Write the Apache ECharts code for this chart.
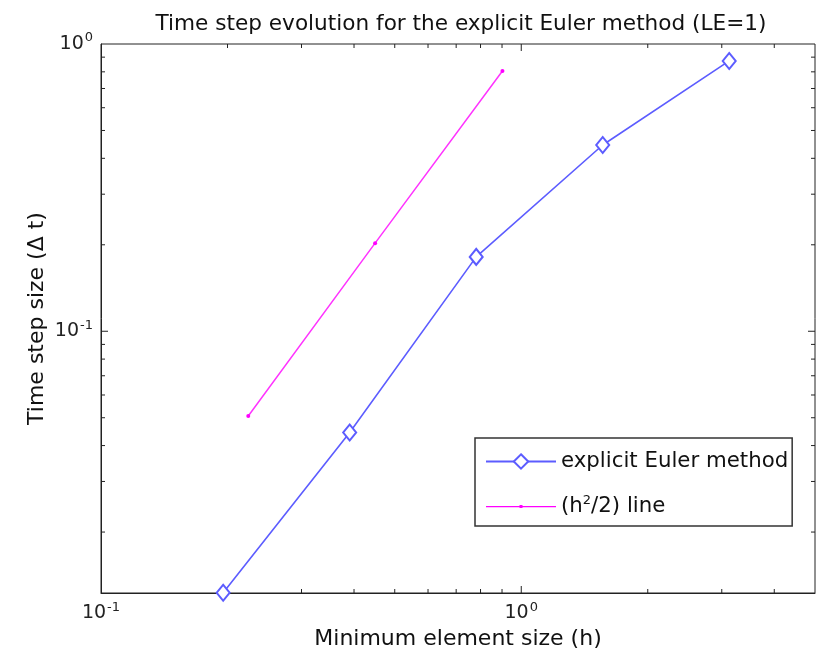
<!DOCTYPE html>
<html>
<head>
<meta charset="utf-8">
<script src="https://cdn.jsdelivr.net/npm/echarts@6/dist/echarts.min.js"></script>
<style>
  html, body { margin: 0; padding: 0; background: #fff; }
  #main { width: 818px; height: 655px; }
</style>
</head>
<body>
<div id="main"></div>
<script>
// minimum element size h and the time step found for each
var hVals = [0.1953, 0.3906, 0.7813, 1.5625, 3.125];
var dtVals = [0.0123, 0.0444, 0.1815, 0.445, 0.873];
// reference h^2 line
var hRef = [0.2241, 0.449, 0.902];
var refVals = [0.0507, 0.2026, 0.805];

// axis limits and tick values
var xMin = 0.1, xMax = 5;
var yMin = 0.01227, yMax = 1;
var xMajorTicks = [1];
var xMinorTicks = [0.2, 0.3, 0.4, 0.5, 0.6, 0.7, 0.8, 0.9, 2, 3, 4];
var yMajorTicks = [0.1];
var yMinorTicks = [0.02, 0.03, 0.04, 0.05, 0.06, 0.07, 0.08, 0.09, 0.2, 0.3, 0.4, 0.5, 0.6, 0.7, 0.8, 0.9];

var FONT = 'DejaVu Sans';
var AXIS_COLOR = '#222';
var EULER = 'explicit Euler method';
var REF = '(h^2/2) line';

var chart = echarts.init(document.getElementById('main'), null, {renderer: 'canvas'});

// 10^n labels with superscript
function powLabel(v) {
  var e = Math.log10(v);
  if (Math.abs(e - Math.round(e)) > 1e-6) return '';
  return '{b|10}{sup|' + Math.round(e) + '}';
}

var labelRich = {
  b: {fontSize: 19, fontFamily: FONT, color: '#222'},
  sup: {fontSize: 13, fontFamily: FONT, color: '#222', verticalAlign: 'top', padding: [0, 0, 12, 1]}
};

// ticks drawn inward on both sides of the box, like matlab
function xTickItem(len) {
  return function (params, api) {
    var p = api.coord([api.value(0), yMin]);
    var cs = params.coordSys;
    var st = {stroke: AXIS_COLOR, lineWidth: 1};
    return {
      type: 'group',
      children: [
        {type: 'line', shape: {x1: p[0], y1: cs.y + cs.height, x2: p[0], y2: cs.y + cs.height - len}, style: st},
        {type: 'line', shape: {x1: p[0], y1: cs.y, x2: p[0], y2: cs.y + len}, style: st}
      ]
    };
  };
}
function yTickItem(len) {
  return function (params, api) {
    var p = api.coord([xMin, api.value(1)]);
    var cs = params.coordSys;
    var st = {stroke: AXIS_COLOR, lineWidth: 1};
    return {
      type: 'group',
      children: [
        {type: 'line', shape: {x1: cs.x, y1: p[1], x2: cs.x + len, y2: p[1]}, style: st},
        {type: 'line', shape: {x1: cs.x + cs.width, y1: p[1], x2: cs.x + cs.width - len, y2: p[1]}, style: st}
      ]
    };
  };
}

var option = {
  animation: false,
  backgroundColor: '#fff',
  title: {
    text: 'Time step evolution for the explicit Euler method (LE=1)',
    left: 456,
    textAlign: 'center',
    top: 8,
    textStyle: {fontFamily: FONT, fontSize: 21.6, fontWeight: 'normal', color: '#111'}
  },
  grid: {
    left: 101, right: 2, top: 44, bottom: 62,
    show: true, borderColor: AXIS_COLOR, borderWidth: 1, backgroundColor: '#fff'
  },
  legend: {
    data: [
      {name: EULER},
      // small dot on the line, as in the plot
      {name: REF, icon: 'path://M0,0h0.05v0.05h-0.05zM69.95,17.95h0.05v0.05h-0.05zM0,8.4h70v1.3h-70zM33.5,7.5h3v3h-3z'}
    ],
    orient: 'vertical',
    left: 475,
    top: 438,
    padding: [13, 4, 9, 10],
    itemGap: 22,
    itemWidth: 70,
    itemHeight: 18,
    backgroundColor: '#fff',
    borderColor: '#333',
    borderWidth: 1.5,
    formatter: function (name) {
      return name === REF ? '(h{sup|2}/2) line' : name;
    },
    textStyle: {
      fontFamily: FONT, fontSize: 21.3, color: '#111',
      rich: {sup: {fontSize: 13, fontFamily: FONT, color: '#111', verticalAlign: 'top', padding: [0, 0, 12, 0]}}
    }
  },
  xAxis: {
    type: 'log',
    logBase: 10,
    min: xMin,
    max: xMax,
    name: 'Minimum element size (h)',
    nameLocation: 'middle',
    nameGap: 33,
    nameTextStyle: {fontFamily: FONT, fontSize: 22, color: '#111'},
    axisLine: {show: true, lineStyle: {color: AXIS_COLOR, width: 1}},
    axisTick: {show: false},
    splitLine: {show: false},
    axisLabel: {
      color: '#222', margin: 8,
      formatter: powLabel, rich: labelRich
    }
  },
  yAxis: {
    type: 'log',
    logBase: 10,
    min: yMin,
    max: yMax,
    name: 'Time step size (\u0394 t)',
    nameLocation: 'middle',
    nameGap: 53,
    nameMoveOverlap: false,
    nameTextStyle: {fontFamily: FONT, fontSize: 22, color: '#111'},
    axisLine: {show: true, lineStyle: {color: AXIS_COLOR, width: 1}},
    axisTick: {show: false},
    splitLine: {show: false},
    axisLabel: {
      color: '#222', margin: 8,
      formatter: powLabel, rich: labelRich
    }
  },
  series: [
    {
      name: EULER,
      type: 'line',
      data: hVals.map(function (h, i) { return [h, dtVals[i]]; }),
      symbol: 'emptyDiamond',
      symbolSize: [13, 16],
      lineStyle: {color: '#5c5cff', width: 1.6},
      itemStyle: {color: '#5c5cff', borderWidth: 1.6},
      clip: false,
      z: 5
    },
    {
      name: REF,
      type: 'line',
      data: hRef.map(function (h, i) { return [h, refVals[i]]; }),
      symbol: 'circle',
      symbolSize: 4,
      lineStyle: {color: '#ff33ff', width: 1.5},
      itemStyle: {color: '#ff00ff'},
      z: 4
    },
    {
      type: 'custom', silent: true, z: 3,
      data: xMinorTicks.map(function (v) { return [v, yMin]; }),
      renderItem: xTickItem(4)
    },
    {
      type: 'custom', silent: true, z: 3,
      data: xMajorTicks.map(function (v) { return [v, yMin]; }),
      renderItem: xTickItem(7)
    },
    {
      type: 'custom', silent: true, z: 3,
      data: yMinorTicks.map(function (v) { return [xMin, v]; }),
      renderItem: yTickItem(4)
    },
    {
      type: 'custom', silent: true, z: 3,
      data: yMajorTicks.map(function (v) { return [xMin, v]; }),
      renderItem: yTickItem(7)
    }
  ]
};

chart.setOption(option);
</script>
</body>
</html>
